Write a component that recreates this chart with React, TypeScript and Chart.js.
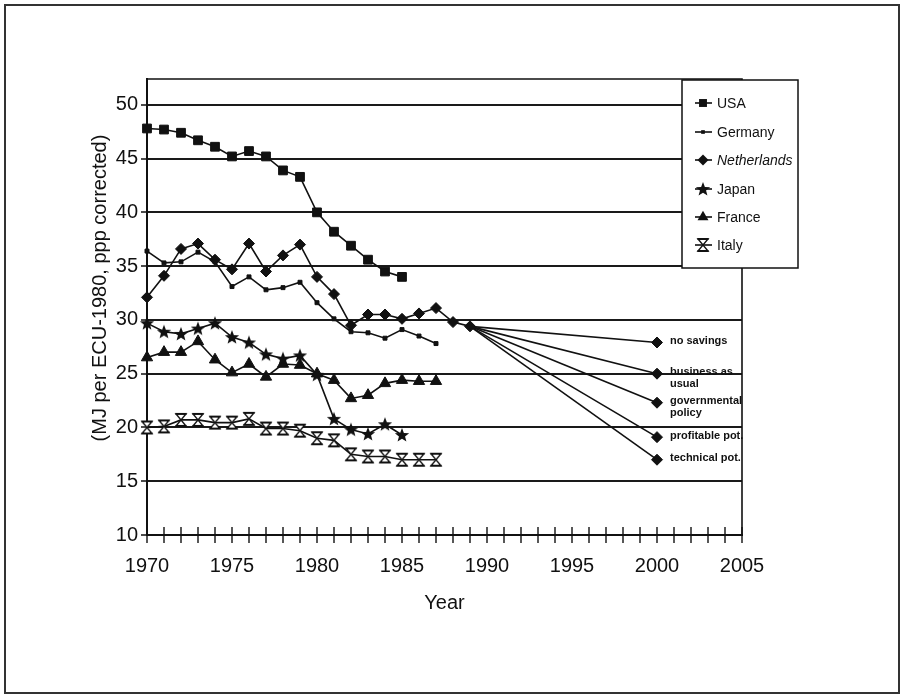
import { useEffect, useRef } from "react";
import { Chart, registerables } from "chart.js";

Chart.register(...registerables);

const START_YEAR = 1970;
const usa = [47.8, 47.7, 47.4, 46.7, 46.1, 45.2, 45.7, 45.2, 43.9, 43.3, 40.0, 38.2, 36.9, 35.6, 34.5, 34.0];
const germany = [36.4, 35.3, 35.4, 36.3, 35.4, 33.1, 34.0, 32.8, 33.0, 33.5, 31.6, 30.1, 28.9, 28.8, 28.3, 29.1, 28.5, 27.8];
const netherlands = [32.1, 34.1, 36.6, 37.1, 35.6, 34.7, 37.1, 34.5, 36.0, 37.0, 34.0, 32.4, 29.5, 30.5, 30.5, 30.1, 30.6, 31.1, 29.8, 29.4];
const japan = [29.7, 28.9, 28.7, 29.2, 29.7, 28.4, 27.9, 26.8, 26.4, 26.7, 24.9, 20.8, 19.8, 19.4, 20.3, 19.3];
const france = [26.5, 27.0, 27.0, 28.0, 26.3, 25.1, 25.9, 24.7, 25.9, 25.8, 25.0, 24.4, 22.7, 23.0, 24.1, 24.4, 24.3, 24.3];
const italy = [20.0, 20.1, 20.7, 20.7, 20.45, 20.45, 20.8, 19.9, 19.9, 19.7, 19.0, 18.8, 17.5, 17.3, 17.3, 17.0, 17.0, 17.0];

const scenarioStartYear = 1989;
const scenarioStartValue = 29.4;
const scenarioEndYear = 2000;
const scenarioValues = [27.9, 25.0, 22.3, 19.1, 17.0];
const scenarioLabels = [["no savings"], ["business as", "usual"], ["governmental", "policy"], ["profitable pot."], ["technical pot."]];

const legendNames = ["USA", "Germany", "Netherlands", "Japan", "France", "Italy"];
const xTickValues = [1970, 1975, 1980, 1985, 1990, 1995, 2000, 2005];
const yTickValues = [10, 15, 20, 25, 30, 35, 40, 45, 50];
const xMin = 1970;
const xMax = 2005;
const yMin = 10;
const yMax = 52.4;

const yTitle = "(MJ per ECU-1980, ppp corrected)";
const xTitle = "Year";

const INK = "#111";
const FONT = "'Liberation Sans', Arial, Helvetica, sans-serif";

const toPoints = (arr: number[]) => arr.map((v, i) => ({ x: START_YEAR + i, y: v }));

function makeStar(): HTMLCanvasElement {
  const c = document.createElement("canvas");
  c.width = 16;
  c.height = 16;
  const ctx = c.getContext("2d")!;
  ctx.fillStyle = INK;
  ctx.beginPath();
  for (let i = 0; i < 10; i++) {
    const r = i % 2 === 0 ? 7.5 : 3.2;
    const a = -Math.PI / 2 + (i * Math.PI) / 5;
    const px = 8 + r * Math.cos(a);
    const py = 8.5 + r * Math.sin(a);
    if (i === 0) ctx.moveTo(px, py);
    else ctx.lineTo(px, py);
  }
  ctx.closePath();
  ctx.fill();
  return c;
}

function makeHourglass(): HTMLCanvasElement {
  const c = document.createElement("canvas");
  c.width = 14;
  c.height = 16;
  const ctx = c.getContext("2d")!;
  ctx.fillStyle = "#fff";
  ctx.strokeStyle = INK;
  ctx.lineWidth = 1.4;
  ctx.beginPath();
  ctx.moveTo(2, 2);
  ctx.lineTo(12, 2);
  ctx.lineTo(2, 14);
  ctx.lineTo(12, 14);
  ctx.closePath();
  ctx.fill();
  ctx.stroke();
  ctx.lineWidth = 2.2;
  ctx.beginPath();
  ctx.moveTo(1.5, 2);
  ctx.lineTo(12.5, 2);
  ctx.moveTo(1.5, 14);
  ctx.lineTo(12.5, 14);
  ctx.stroke();
  return c;
}

export default function App() {
  const ref = useRef<HTMLCanvasElement | null>(null);

  useEffect(() => {
    if (!ref.current) return;
    const star = makeStar();
    const hourglass = makeHourglass();

    const baseLine = {
      borderColor: INK,
      backgroundColor: INK,
      borderWidth: 1.6,
      pointBorderColor: INK,
      pointBackgroundColor: INK,
      pointBorderWidth: 1,
      tension: 0,
      fill: false,
      clip: false,
    };

    const mainSets: any[] = [
      { ...baseLine, label: "USA", data: toPoints(usa), pointStyle: "rect", pointRadius: 6.2 },
      { ...baseLine, label: "Germany", data: toPoints(germany), pointStyle: "rect", pointRadius: 2.8 },
      { ...baseLine, label: "Netherlands", data: toPoints(netherlands), pointStyle: "rectRot", pointRadius: 5.5 },
      { ...baseLine, label: "Japan", data: toPoints(japan), pointStyle: star, pointRadius: 7 },
      { ...baseLine, label: "France", data: toPoints(france), pointStyle: "triangle", pointRadius: 6.5 },
      { ...baseLine, label: "Italy", data: toPoints(italy), pointStyle: hourglass, pointRadius: 7 },
    ];

    const scenarioSets: any[] = scenarioValues.map((v, i) => ({
      ...baseLine,
      label: scenarioLabels[i].join(" "),
      data: [
        { x: scenarioStartYear, y: scenarioStartValue },
        { x: scenarioEndYear, y: v },
      ],
      pointStyle: "rectRot",
      pointRadius: [0, 5.5],
    }));

    const decor = {
      id: "decor",
      beforeDraw(chart: any) {
        const ctx = chart.ctx;
        ctx.save();
        ctx.fillStyle = "#fff";
        ctx.fillRect(0, 0, chart.width, chart.height);
        ctx.strokeStyle = "#333";
        ctx.lineWidth = 2;
        ctx.strokeRect(5, 5, 894, 688);
        ctx.restore();
      },
      afterDraw(chart: any) {
        const ctx = chart.ctx;
        const area = chart.chartArea;
        const xs = chart.scales.x;
        const ys = chart.scales.y;
        ctx.save();
        // plot box top and right
        ctx.strokeStyle = INK;
        ctx.lineWidth = 1.6;
        ctx.beginPath();
        ctx.moveTo(area.left, area.top);
        ctx.lineTo(area.right, area.top);
        ctx.lineTo(area.right, area.bottom);
        ctx.stroke();
        // yearly tick marks across the x axis
        ctx.lineWidth = 1.4;
        ctx.beginPath();
        for (let yr = xMin; yr <= xMax; yr++) {
          const px = xs.getPixelForValue(yr);
          ctx.moveTo(px, area.bottom - 8);
          ctx.lineTo(px, area.bottom + 8);
        }
        ctx.stroke();

        // axis titles
        ctx.fillStyle = INK;
        ctx.font = `20px ${FONT}`;
        ctx.textAlign = "center";
        ctx.textBaseline = "middle";
        ctx.fillText(xTitle, (area.left + area.right) / 2, 603);
        ctx.save();
        ctx.translate(100, 288);
        ctx.rotate(-Math.PI / 2);
        ctx.fillText(yTitle, 0, 0);
        ctx.restore();

        // scenario labels
        ctx.font = `bold 11px ${FONT}`;
        ctx.textAlign = "left";
        ctx.textBaseline = "middle";
        scenarioValues.forEach((v, i) => {
          const px = xs.getPixelForValue(scenarioEndYear) + 13;
          const py = ys.getPixelForValue(v) - 1.5;
          scenarioLabels[i].forEach((line, j) => {
            ctx.fillText(line, px, py + j * 12);
          });
        });

        // legend box
        const lx = 682, ly = 80, lw = 116, lh = 188;
        ctx.fillStyle = "#fff";
        ctx.fillRect(lx, ly, lw, lh);
        ctx.strokeStyle = INK;
        ctx.lineWidth = 1.5;
        ctx.strokeRect(lx, ly, lw, lh);
        const rowY = [103, 132, 160, 189, 217, 245];
        const styles: any[] = mainSets.map((d) => d.pointStyle);
        const radii: number[] = [5.6, 2.6, 5.5, 7, 6.3, 7];
        legendNames.forEach((name, i) => {
          const y = rowY[i];
          ctx.strokeStyle = INK;
          ctx.lineWidth = 1.6;
          ctx.beginPath();
          ctx.moveTo(695, y);
          ctx.lineTo(712, y);
          ctx.stroke();
          const st = styles[i];
          if (typeof st === "string") {
            ctx.fillStyle = INK;
            ctx.beginPath();
            const r = radii[i];
            if (st === "rect") {
              const s = Math.SQRT1_2 * r;
              ctx.rect(703 - s, y - s, 2 * s, 2 * s);
            } else if (st === "rectRot") {
              ctx.moveTo(703 - r, y);
              ctx.lineTo(703, y - r);
              ctx.lineTo(703 + r, y);
              ctx.lineTo(703, y + r);
              ctx.closePath();
            } else if (st === "triangle") {
              ctx.moveTo(703, y - r);
              ctx.lineTo(703 + r * 0.866, y + r * 0.5);
              ctx.lineTo(703 - r * 0.866, y + r * 0.5);
              ctx.closePath();
            }
            ctx.fill();
          } else {
            ctx.drawImage(st, 703 - st.width / 2, y - st.height / 2);
          }
          ctx.fillStyle = INK;
          ctx.font = `${name === "Netherlands" ? "italic " : ""}14px ${FONT}`;
          ctx.textAlign = "left";
          ctx.textBaseline = "middle";
          ctx.fillText(name, 717, y + 1);
        });
        ctx.restore();
      },
    };

    const chart = new Chart(ref.current, {
      type: "line",
      data: { datasets: [...mainSets, ...scenarioSets] },
      options: {
        animation: false,
        responsive: false,
        events: [],
        layout: { padding: { top: 79, right: 163, left: 0, bottom: 0 } },
        plugins: { legend: { display: false }, tooltip: { enabled: false }, title: { display: false } },
        scales: {
          x: {
            type: "linear",
            min: xMin,
            max: xMax,
            afterFit: (s: any) => {
              s.height = 160;
            },
            afterBuildTicks: (s: any) => {
              s.ticks = xTickValues.map((v) => ({ value: v }));
            },
            grid: { display: false, drawTicks: false },
            border: { display: true, color: INK, width: 2 },
            ticks: {
              stepSize: 5,
              padding: 19,
              color: INK,
              font: { family: FONT, size: 20 },
              maxRotation: 0,
              autoSkip: false,
              callback: (v: any) => String(v),
            },
          },
          y: {
            type: "linear",
            min: yMin,
            max: yMax,
            afterFit: (s: any) => {
              s.width = 147;
            },
            afterBuildTicks: (s: any) => {
              s.ticks = yTickValues.map((v) => ({ value: v }));
            },
            grid: { color: "#1a1a1a", lineWidth: 2, drawTicks: true, tickLength: 6, tickWidth: 1.5, tickColor: INK },
            border: { display: true, color: INK, width: 2 },
            ticks: {
              stepSize: 5,
              padding: 3,
              color: INK,
              font: { family: FONT, size: 20 },
              callback: (v: any) => String(v),
            },
          },
        },
      },
      plugins: [decor],
    } as any);

    return () => chart.destroy();
  }, []);

  return (
    <div style={{ position: "absolute", left: 0, top: 0, width: 905, height: 695 }}>
      <canvas ref={ref} width={905} height={695} style={{ display: "block", width: 905, height: 695 }} />
    </div>
  );
}
